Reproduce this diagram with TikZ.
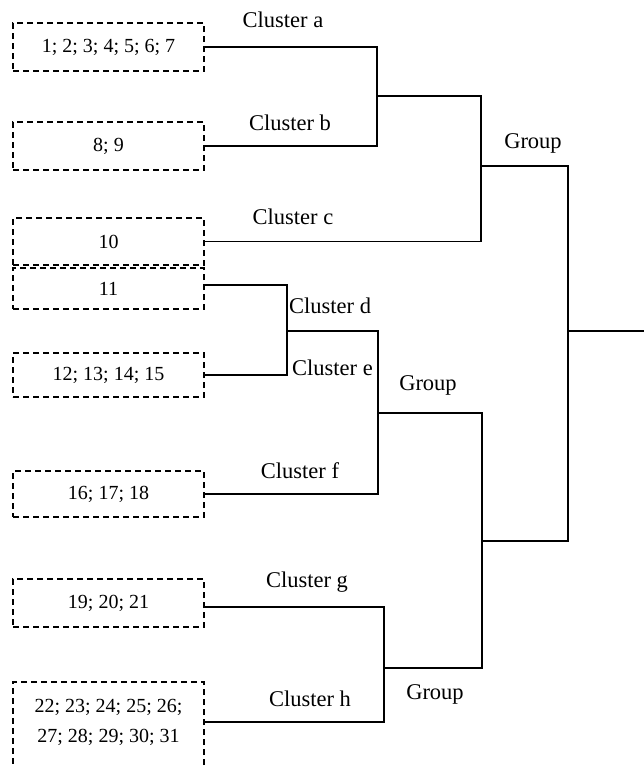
\documentclass[tikz,border=0pt]{standalone}
\usepackage{fontspec}
\setmainfont{Liberation Serif}
\usetikzlibrary{calc}
\begin{document}
\begin{tikzpicture}[x=1pt,y=-1pt,
  box/.style={draw,dash pattern=on 6pt off 4pt,line width=1.1pt,minimum width=191pt,inner sep=0pt,font=\fontsize{20}{24}\selectfont},
  numtxt/.style={anchor=base,inner sep=0pt,font=\fontsize{20}{24}\selectfont},
  lbl/.style={anchor=base,inner sep=0pt,font=\fontsize{22.5}{27}\selectfont},
  conn/.style={line width=1.2pt}]
\useasboundingbox (0,0) rectangle (644,766);
% boxes
\node[box,minimum height=48pt] (b1) at (108.5,47) {1; 2; 3; 4; 5; 6; 7};
\node[box,minimum height=48pt] (b2) at (108.5,146) {8; 9};
\node[box,minimum height=47pt] (b3) at (108.5,241.5) {10};
\node[box,minimum height=41pt] (b4) at (108.5,288.5) {11};
\node[box,minimum height=44pt] (b5) at (108.5,375) {12; 13; 14; 15};
\node[box,minimum height=46pt] (b6) at (108.5,494) {16; 17; 18};
\node[box,minimum height=48pt] (b7) at (108.5,603) {19; 20; 21};
\node[box,minimum height=92pt] (b8) at (108.5,728) {};
\node[numtxt] (t8a) at (108.5,712) {22; 23; 24; 25; 26;};
\node[numtxt] (t8b) at (108.5,742) {27; 28; 29; 30; 31};
% join points
\coordinate (ab) at (377,96);
\coordinate (g1) at (481,166);
\coordinate (de) at (287,331);
\coordinate (def) at (378,413);
\coordinate (gh) at (384,668);
\coordinate (g2) at (482,541);
\coordinate (r) at (568,331);
\coordinate (out) at (644,331);
% connectors
\draw[conn] (b1.east) -| (ab) |- (b2.east);
\draw[conn] (ab) -| (g1) |- (b3.east);
\draw[conn] ([yshift=3.5pt]b4.east) -| (de) |- (b5.east);
\draw[conn] (de) -| (def) |- (b6.east);
\draw[conn] ([yshift=-4pt]b7.east) -| (gh) |- ([yshift=6pt]b8.east);
\draw[conn] (def) -| (g2) |- (gh);
\draw[conn] (g1) -| (r) |- (g2);
\draw[conn] (r) -- (out);
% labels
\node[lbl] (la) at (283,27) {Cluster a};
\node[lbl] (lb) at (290,130) {Cluster b};
\node[lbl] (lc) at (293,224) {Cluster c};
\node[lbl,anchor=base west] (ld) at (289,313) {Cluster d};
\node[lbl,anchor=base west] (le) at (292,375) {Cluster e};
\node[lbl] (lf) at (300,478) {Cluster f};
\node[lbl] (lg) at (307,587) {Cluster g};
\node[lbl] (lh) at (310,706) {Cluster h};
\node[lbl] (gr1) at (533,148) {Group};
\node[lbl] (gr2) at (428,390) {Group};
\node[lbl] (gr3) at (435,699) {Group};
\end{tikzpicture}
\end{document}
